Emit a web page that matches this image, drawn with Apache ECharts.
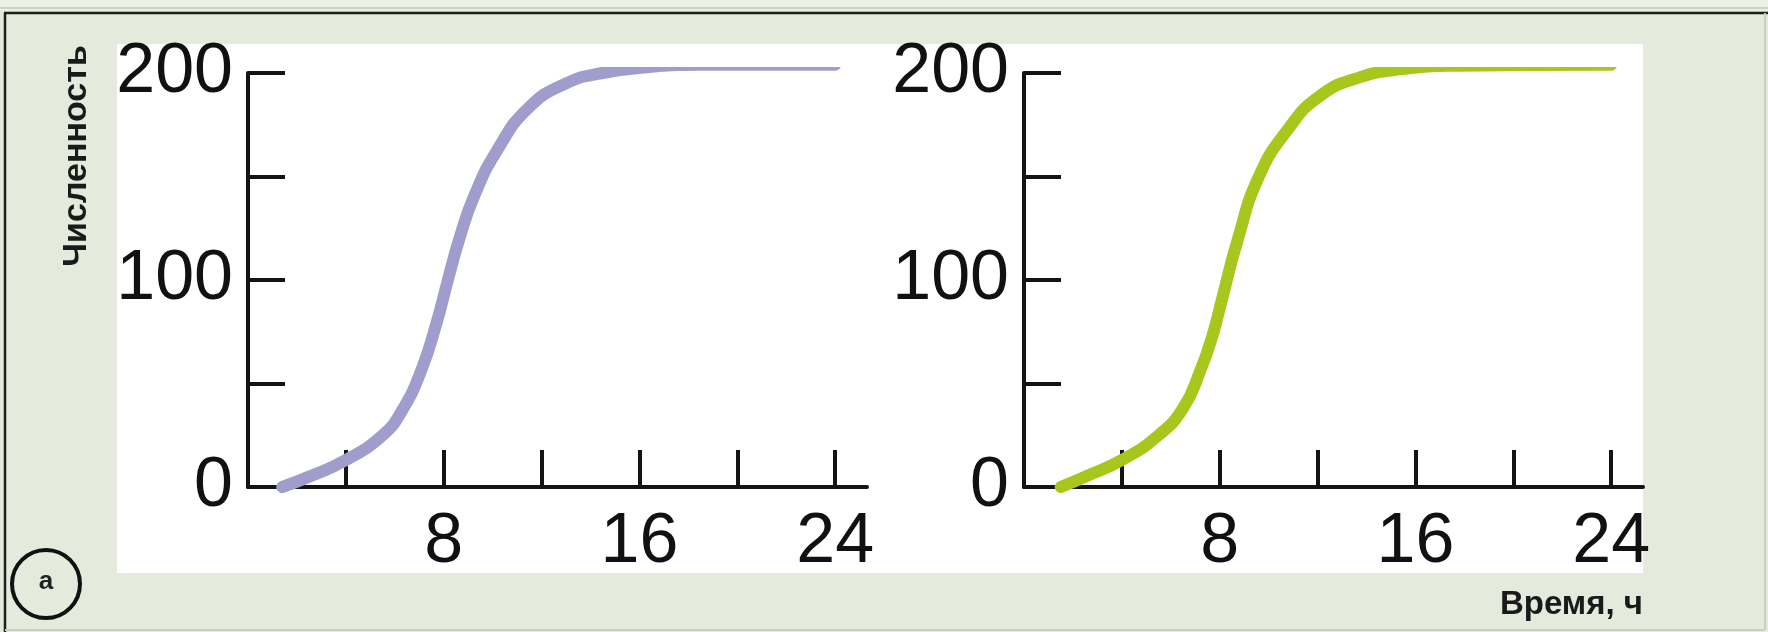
<!DOCTYPE html>
<html>
<head>
<meta charset="utf-8">
<script src="https://cdn.jsdelivr.net/npm/echarts@6/dist/echarts.min.js"></script>
<style>
html,body{margin:0;padding:0;background:#e4ebdc;}
#chart{width:1768px;height:632px;}
</style>
</head>
<body>
<div id="chart"></div>
<script>
// ---- data ----
var timesLeft  = [1.4, 2.5, 4, 5.5, 6.3, 7.07, 7.7, 8.17, 8.64, 9.26, 10.2, 11.45, 13, 14.5, 16.5, 18.5, 24];
var countsLeft = [0, 5, 13, 25, 37, 56, 79, 100, 120, 141, 163, 183, 195, 200, 203, 204, 204];
var timesRight  = [1.5, 2.5, 4, 5.5, 6.5, 7.2, 7.7, 8.1, 8.7, 9.6, 10.8, 12.1, 13.75, 15.55, 17.6, 24];
var countsRight = [0, 5, 13, 25, 38, 56, 73, 91, 118, 150, 173, 189, 198, 202, 203.5, 204];
var xTickValues  = [4, 8, 12, 16, 20, 24];
var xLabelValues = [8, 16, 24];
var yTickValues  = [50, 100, 150, 200];
var yLabelValues = [0, 100, 200];
var yAxisTitle = 'Численность';
var xAxisTitle = 'Время, ч';
var panelMark = 'а';

function pairs(xs, ys){ return xs.map(function(x,i){ return [x, ys[i]]; }); }

var FONT = '"Liberation Sans", Arial, Helvetica, sans-serif';
var AX = '#141414';

function makeX(gi){
  return {
    type:'value', gridIndex:gi, min:0, max:25.3,
    axisLine:{show:true, onZero:true, lineStyle:{color:AX, width:4}},
    axisTick:{show:true, inside:true, length:37, customValues:xTickValues, lineStyle:{color:AX, width:4}},
    axisLabel:{show:true, customValues:xLabelValues, margin:21, color:'#111', fontSize:70, fontFamily:FONT},
    splitLine:{show:false}
  };
}
function makeY(gi){
  return {
    type:'value', gridIndex:gi, min:0, max:200, interval:50,
    axisLine:{show:true, lineStyle:{color:AX, width:4}},
    axisTick:{show:true, inside:true, length:37, customValues:yTickValues, lineStyle:{color:AX, width:4}},
    axisLabel:{show:true, customValues:yLabelValues, margin:15, color:'#111', fontSize:70, fontFamily:FONT},
    splitLine:{show:false}
  };
}

var chart = echarts.init(document.getElementById('chart'), null, {renderer:'canvas'});
chart.setOption({
  backgroundColor:'#e4ebdc',
  animation:false,
  grid:[
    {left:248, top:73, width:619, height:414},
    {left:1024, top:73, width:619, height:414}
  ],
  xAxis:[makeX(0), makeX(1)],
  yAxis:[makeY(0), makeY(1)],
  series:[
    {type:'line', xAxisIndex:0, yAxisIndex:0, data:pairs(timesLeft, countsLeft), smooth:0.5, showSymbol:false,
     lineStyle:{color:'#a09dcd', width:12, cap:'round', join:'round'}, z:3},
    {type:'line', xAxisIndex:1, yAxisIndex:1, data:pairs(timesRight, countsRight), smooth:0.5, showSymbol:false,
     lineStyle:{color:'#a7c71d', width:12, cap:'round', join:'round'}, z:3}
  ],
  graphic:[
    {type:'rect', z:-10, shape:{x:0, y:0, width:1768, height:10}, style:{fill:'#edf1e6'}},
    {type:'line', z:-9, shape:{x1:0, y1:8, x2:1768, y2:8}, style:{stroke:'#cdd6c2', lineWidth:2}},
    {type:'line', z:-9, shape:{x1:4, y1:13, x2:1768, y2:13}, style:{stroke:'#1e1e1e', lineWidth:2.5}},
    {type:'line', z:-9, shape:{x1:5, y1:13, x2:5, y2:632}, style:{stroke:'#1e1e1e', lineWidth:2.5}},
    {type:'line', z:-9, shape:{x1:1765, y1:13, x2:1765, y2:630}, style:{stroke:'#c9d0c0', lineWidth:2}},
    {type:'line', z:-9, shape:{x1:5, y1:630, x2:1765, y2:630}, style:{stroke:'#c9d0c0', lineWidth:2}},
    {type:'rect', z:-10, shape:{x:117, y:44, width:1526, height:529}, style:{fill:'#ffffff'}},
    {type:'text', x:77, y:156, rotation:Math.PI/2,
     style:{text:yAxisTitle, x:0, y:0, textAlign:'center', textVerticalAlign:'middle', fill:'#1a1a1a',
            font:'bold 34px ' + FONT}},
    {type:'text', x:1643, y:605,
     style:{text:xAxisTitle, x:0, y:0, textAlign:'right', textVerticalAlign:'middle', fill:'#1a1a1a',
            font:'bold 33px ' + FONT}},
    {type:'circle', shape:{cx:46, cy:584, r:34}, style:{fill:'none', stroke:'#111', lineWidth:4}},
    {type:'text', x:46, y:582,
     style:{text:panelMark, x:0, y:0, textAlign:'center', textVerticalAlign:'middle', fill:'#222',
            font:'bold 26px ' + FONT}}
  ]
});
</script>
</body>
</html>
